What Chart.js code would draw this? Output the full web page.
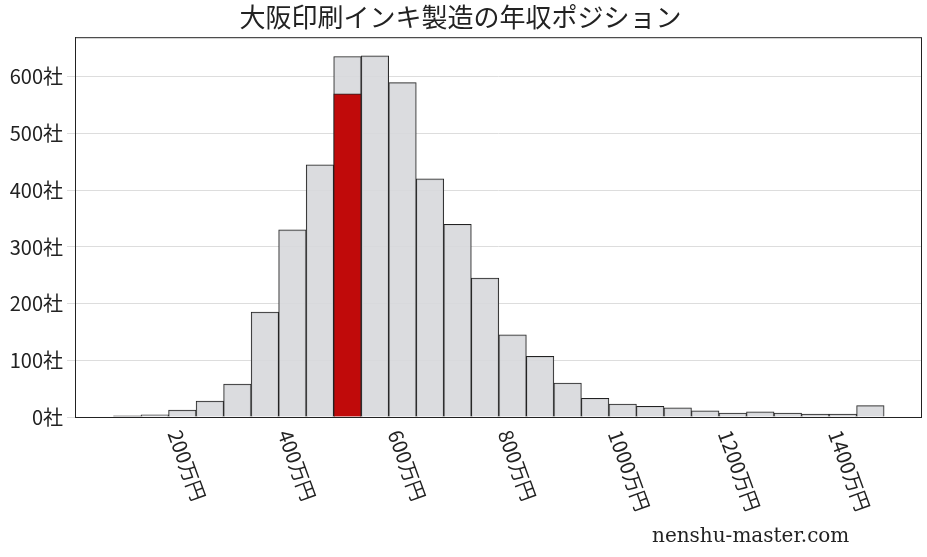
<!DOCTYPE html>
<html><head><meta charset="utf-8">
<script src="https://cdn.jsdelivr.net/npm/chart.js@4"></script>
<style>body{margin:0;background:#fff}#w{width:927px;height:557px;position:relative}</style>
</head><body><div id="w"><canvas id="c" width="927" height="557"></canvas></div>
<script>
const centers=[100,150,200,250,300,350,400,450,500,550,600,650,700,750,800,850,900,950,1000,1050,1100,1150,1200,1250,1300,1350,1400,1450];
const counts=[2,4,12,28,58,185,330,445,636,637,590,420,340,245,145,107,60,33,23,19,16,11,7,9,7,5,5,20];
const highlightX=[500];
const highlightY=[570];
const xTicks=[200,400,600,800,1000,1200,1400];
const yTicks=[0,100,200,300,400,500,600];
const FONT='"Noto Sans CJK JP","DejaVu Serif",serif';
const labelPlugin={id:'lbl',afterDraw(ch){
 const c=ch.ctx,xs=ch.scales.x,b=ch.chartArea.bottom;
 c.save();c.font='20px '+FONT;c.fillStyle='#222';c.textBaseline='middle';
 xTicks.forEach(v=>{const px=xs.getPixelForValue(v);c.save();c.translate(px-8,b+14);c.rotate(70*Math.PI/180);c.fillText(v+'万円',0,0);c.restore();});
 c.font='20px "DejaVu Serif",serif';c.fillStyle='#222';c.textAlign='left';c.fillText('nenshu-master.com',652,537);
 c.restore();}};
new Chart(document.getElementById('c'),{type:'bar',
 data:{datasets:[
  {data:highlightX.map((x,i)=>({x,y:highlightY[i]})),backgroundColor:'#c00a0a',borderColor:'#222',borderWidth:1,grouped:false,order:0},
  {data:centers.map((x,i)=>({x,y:counts[i]})),backgroundColor:'rgba(215,216,220,0.9)',borderColor:'#222',borderWidth:1,grouped:false,order:1}
 ]},
 options:{responsive:false,animation:false,devicePixelRatio:1,
  layout:{padding:{left:0,right:6,top:0,bottom:0}},
  barPercentage:1,categoryPercentage:1,
  plugins:{legend:{display:false},tooltip:{enabled:false},
   title:{display:true,text:'大阪印刷インキ製造の年収ポジション',font:{size:26,family:FONT,weight:'normal'},color:'#222',padding:{top:2,bottom:4}}},
  scales:{
   x:{type:'linear',min:5,max:1542,offset:false,grid:{display:false,drawTicks:true},border:{color:'#222'},
    afterBuildTicks(s){s.ticks=xTicks.map(v=>({value:v}));},
    ticks:{display:true,color:'rgba(0,0,0,0)',font:{size:20},maxRotation:0,padding:0},
    afterFit(s){s.height=140;}},
   y:{min:0,max:670,grid:{color:'#ddd'},border:{color:'#222'},
    afterBuildTicks(s){s.ticks=yTicks.map(v=>({value:v}));},
    ticks:{color:'#222',font:{size:20,family:FONT},callback:v=>v+'社',padding:4},
    afterFit(s){s.width=75;}}
  }},
 plugins:[labelPlugin,{id:'box',afterDraw(ch){const a=ch.chartArea,c=ch.ctx;c.save();c.strokeStyle='#222';c.lineWidth=1;c.strokeRect(a.left+.5,a.top+.5,a.right-a.left,a.bottom-a.top);c.restore();}}]
});
</script></body></html>
